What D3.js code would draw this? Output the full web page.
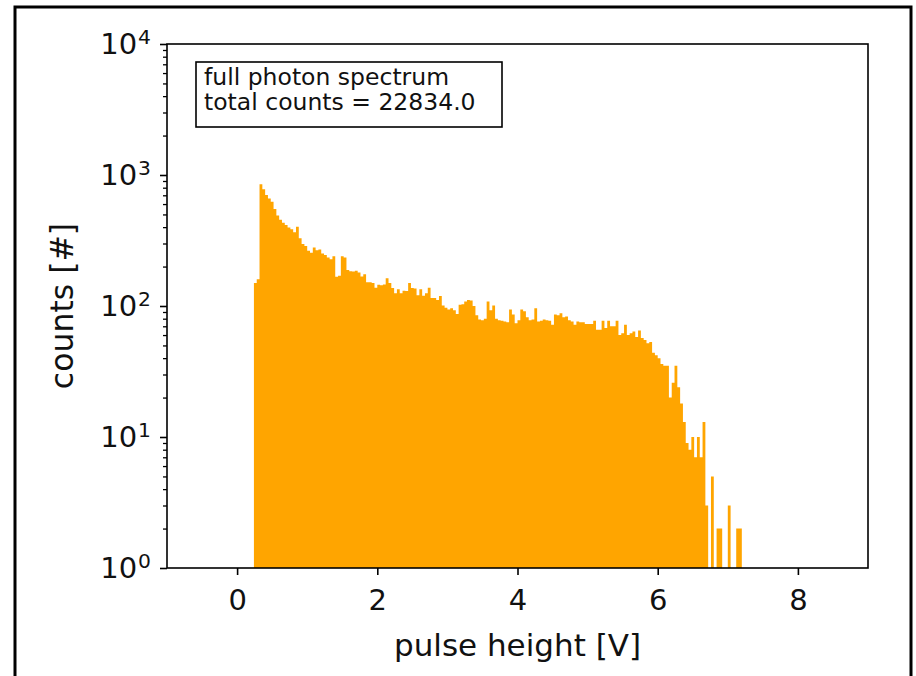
<!DOCTYPE html>
<html>
<head>
<meta charset="utf-8">
<script src="https://cdn.jsdelivr.net/npm/d3@7"></script>
<style>
  body { margin: 0; background: #fff; }
  text { font-family: "DejaVu Sans", sans-serif; fill: #111; }
</style>
</head>
<body>
<svg id="chart" width="916" height="676"></svg>
<script>
// histogram bins, pulse height in V
const binStart = 0.24;
const binWidth = 0.04;

// counts per bin
const counts = [
  150, 160, 850, 780, 703, 663, 626, 550, 490, 455,
  432, 415, 398, 385, 365, 403, 329, 297, 287, 264,
  255, 280, 267, 270, 252, 245, 235, 227, 240, 167,
  170, 240, 235, 188, 184, 183, 186, 180, 168, 175,
  152, 152, 150, 138, 145, 144, 146, 163, 150, 137,
  125, 134, 125, 131, 130, 150, 137, 136, 121, 134,
  120, 125, 138, 115, 115, 111, 119, 101, 97, 94,
  96, 93, 87, 102, 103, 108, 111, 110, 100, 85,
  79, 78, 80, 108, 93, 101, 80, 78, 77, 76,
  75, 94, 86, 74, 78, 94, 91, 82, 78, 79,
  96, 76, 77, 79, 78, 77, 72, 86, 85, 88,
  82, 83, 78, 76, 72, 76, 75, 75, 73, 73,
  73, 77, 66, 66, 77, 68, 77, 70, 70, 77,
  60, 62, 72, 60, 62, 64, 58, 65, 57, 55,
  52, 53, 44, 42, 40, 36, 35, 35, 20, 26,
  35, 24, 18, 13, 9, 8, 10, 7, 10, 7,
  13, 3, 0, 5, 0, 2, 2, 0, 0, 3,
  0, 0, 2, 2
];

const xDomain = [-1, 9];
const yDomain = [1, 1e4];
const xTicks = [0, 2, 4, 6, 8];
const yTicks = [1, 10, 100, 1000, 10000];
const legendLines = ['full photon spectrum', 'total counts = 22834.0'];

const svg = d3.select('#chart');
const margin = { top: 44, right: 48, bottom: 108, left: 167 };
const width = 916 - margin.left - margin.right;
const height = 676 - margin.top - margin.bottom;

// frame round the whole figure
svg.append('rect')
  .attr('x', 15).attr('y', 7)
  .attr('width', 896).attr('height', 700)
  .attr('fill', 'none').attr('stroke', '#000').attr('stroke-width', 3);

const g = svg.append('g')
  .attr('transform', `translate(${margin.left},${margin.top})`);

const x = d3.scaleLinear().domain(xDomain).range([0, width]);
const y = d3.scaleLog().domain(yDomain).range([height, 0]);

// histogram outline as one filled path, empty bins drop to the baseline
const path = d3.path();
path.moveTo(x(binStart), y(1));
counts.forEach((c, i) => {
  const x0 = x(binStart + i * binWidth);
  const x1 = x(binStart + (i + 1) * binWidth);
  const yv = c > 0 ? y(Math.max(c, 1)) : y(1);
  path.lineTo(x0, yv);
  path.lineTo(x1, yv);
});
path.lineTo(x(binStart + counts.length * binWidth), y(1));
path.closePath();

g.append('path')
  .attr('d', path.toString())
  .attr('fill', '#ffa500');

// x axis
const xAxis = g.append('g')
  .attr('transform', `translate(0,${height})`)
  .call(d3.axisBottom(x).tickValues(xTicks).tickSize(7).tickPadding(14).tickFormat(d3.format('d')));
xAxis.select('.domain').remove();
xAxis.selectAll('line').attr('stroke', '#000').attr('stroke-width', 1.6);
xAxis.selectAll('text').attr('font-size', 29).attr('fill', '#111')
  .style('font-family', '"DejaVu Sans", sans-serif');

// y axis, minor ticks first
const minor = y.ticks().filter(v => !yTicks.includes(v));
const yMinor = g.append('g')
  .call(d3.axisLeft(y).tickValues(minor).tickSize(4).tickFormat(''));
yMinor.select('.domain').remove();
yMinor.selectAll('line').attr('stroke', '#000').attr('stroke-width', 1.3);

const yAxis = g.append('g')
  .call(d3.axisLeft(y).tickValues(yTicks).tickSize(7).tickPadding(9).tickFormat(''));
yAxis.select('.domain').remove();
yAxis.selectAll('line').attr('stroke', '#000').attr('stroke-width', 1.6);
yAxis.selectAll('.tick text')
  .attr('font-size', 29)
  .attr('fill', '#111')
  .style('font-family', '"DejaVu Sans", sans-serif')
  .each(function (d) {
    const t = d3.select(this);
    t.text('10');
    t.append('tspan')
      .attr('dx', 1)
      .attr('dy', '-0.5em')
      .attr('font-size', '0.7em')
      .text(Math.round(Math.log10(d)));
  });

// spines
g.append('rect')
  .attr('width', width).attr('height', height)
  .attr('fill', 'none').attr('stroke', '#000').attr('stroke-width', 1.6);

// axis labels
svg.append('text')
  .attr('x', margin.left + width / 2)
  .attr('y', 656)
  .attr('text-anchor', 'middle')
  .attr('font-size', 31)
  .text('pulse height [V]');

svg.append('text')
  .attr('transform', `translate(73,${margin.top + height / 2}) rotate(-90)`)
  .attr('text-anchor', 'middle')
  .attr('font-size', 31.5)
  .text('counts [#]');

// text box in the upper left corner
const box = g.append('g').attr('transform', 'translate(29,18)');
box.append('rect')
  .attr('width', 306).attr('height', 65)
  .attr('fill', '#fff').attr('stroke', '#000').attr('stroke-width', 1.6);
box.selectAll('text.legend')
  .data(legendLines)
  .join('text')
  .attr('class', 'legend')
  .attr('x', 8)
  .attr('y', (d, i) => 22.5 + i * 25.5)
  .attr('font-size', 23.5)
  .text(d => d);
</script>
</body>
</html>
